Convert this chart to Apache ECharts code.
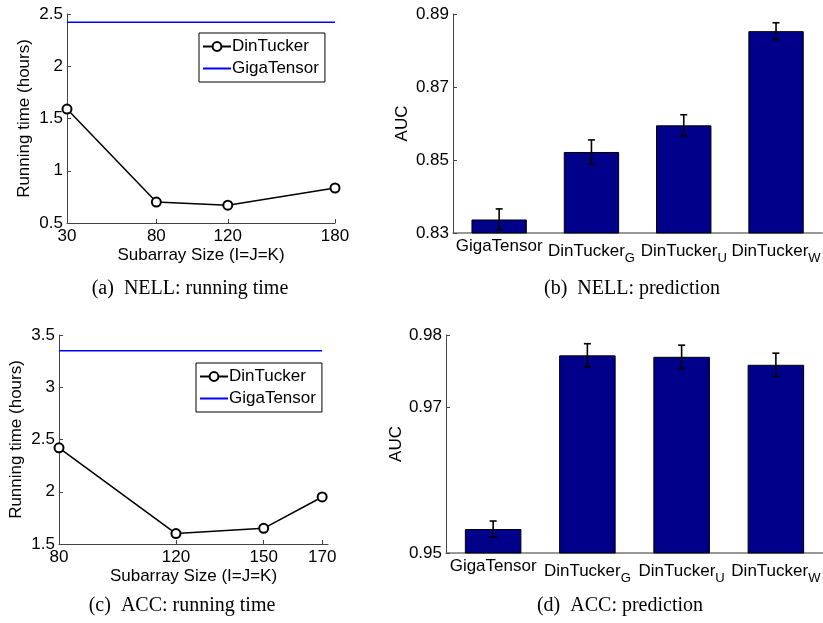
<!DOCTYPE html>
<html lang="en">
<head>
  <meta charset="UTF-8">
  <title>DinTucker vs GigaTensor</title>
  <script src="https://cdn.jsdelivr.net/npm/echarts@6/dist/echarts.min.js"></script>
  <style>
    html, body { margin: 0; padding: 0; background: #fff; overflow: hidden; }
  </style>
</head>
<body>
  <div id="main" style="width: 823px;height:623px;"></div>
<script type="text/javascript">
  // data
  var nellSizes = [30, 80, 120, 180];
  var nellDinTucker = [1.59, 0.70, 0.67, 0.835];
  var nellGigaTensor = [2.42, 2.42, 2.42, 2.42];

  var accSizes = [80, 120, 150, 170];
  var accDinTucker = [2.42, 1.60, 1.65, 1.95];
  var accGigaTensor = [3.35, 3.35, 3.35, 3.35];

  var methods = ['GigaTensor', 'DinTucker_G', 'DinTucker_U', 'DinTucker_W'];
  var nellAuc = [0.8337, 0.8522, 0.8595, 0.8853];
  var nellErr = [0.0029, 0.0033, 0.0029, 0.0023];
  var accAuc = [0.9533, 0.9772, 0.9770, 0.9759];
  var accErr = [0.0011, 0.0016, 0.0016, 0.0016];

  var nellTicksY = [0.5, 1, 1.5, 2, 2.5];
  var accTicksY = [1.5, 2, 2.5, 3, 3.5];
  var nellAucTicks = [0.83, 0.85, 0.87, 0.89];
  var accAucTicks = [0.95, 0.97, 0.98];

  var app = echarts.init(document.getElementById('main'));

  var sans = 'Liberation Sans';
  var serif = 'Liberation Serif';
  var axisColor = '#444';
  var fs = 17;

  function pairs(xs, ys) {
    return xs.map(function (x, i) { return [x, ys[i]]; });
  }

  function errData(vals, errs) {
    return vals.map(function (v, i) { return [i, v - errs[i], v + errs[i]]; });
  }

  function renderErr(params, api) {
    var lo = api.coord([api.value(0), api.value(1)]);
    var hi = api.coord([api.value(0), api.value(2)]);
    var w = 3.5;
    var st = { stroke: '#000', lineWidth: 1.6 };
    return {
      type: 'group',
      children: [
        { type: 'line', shape: { x1: lo[0], y1: lo[1], x2: hi[0], y2: hi[1] }, style: st },
        { type: 'line', shape: { x1: lo[0] - w, y1: lo[1], x2: lo[0] + w, y2: lo[1] }, style: st },
        { type: 'line', shape: { x1: hi[0] - w, y1: hi[1], x2: hi[0] + w, y2: hi[1] }, style: st }
      ]
    };
  }

  function methodLabel(v) {
    var p = v.split('_');
    return p.length > 1 ? p[0] + '{sub|' + p[1] + '}' : v;
  }

  function lineX(min, max, ticks, gridIndex) {
    return {
      type: 'value', gridIndex: gridIndex, min: min, max: max,
      name: 'Subarray Size (I=J=K)', nameLocation: 'middle', nameGap: 24,
      nameTextStyle: { fontFamily: sans, fontSize: fs, color: '#000' },
      axisLine: { lineStyle: { color: axisColor } },
      axisTick: { inside: true, length: 4, customValues: ticks, lineStyle: { color: axisColor } },
      axisLabel: { customValues: ticks, fontFamily: sans, fontSize: fs, color: '#000', margin: 5 },
      splitLine: { show: false }
    };
  }

  function lineY(min, max, ticks, gridIndex) {
    return {
      type: 'value', gridIndex: gridIndex, min: min, max: max, interval: 0.5,
      name: 'Running time (hours)', nameLocation: 'middle', nameGap: 34,
      nameTextStyle: { fontFamily: sans, fontSize: fs, color: '#000' },
      axisLine: { show: true, lineStyle: { color: axisColor } },
      axisTick: { show: true, inside: true, length: 4, customValues: ticks, lineStyle: { color: axisColor } },
      axisLabel: { customValues: ticks, fontFamily: sans, fontSize: fs, color: '#000', margin: 4 },
      splitLine: { show: false }
    };
  }

  function barX(gridIndex) {
    return {
      type: 'category', gridIndex: gridIndex, data: methods,
      axisLine: { lineStyle: { color: '#777', width: 1.5 } },
      axisTick: { show: false },
      axisLabel: {
        interval: 0, fontFamily: sans, fontSize: fs, color: '#000', margin: 5,
        formatter: methodLabel,
        rich: { sub: { fontFamily: sans, fontSize: 13, color: '#000', padding: [14, 0, 0, 0] } }
      }
    };
  }

  function barY(min, max, ticks, gridIndex, gap) {
    return {
      type: 'value', gridIndex: gridIndex, min: min, max: max, interval: 0.01,
      name: 'AUC', nameLocation: 'middle', nameGap: gap,
      nameTextStyle: { fontFamily: sans, fontSize: fs, color: '#000' },
      axisLine: { show: true, lineStyle: { color: axisColor } },
      axisTick: { show: true, inside: true, length: 4, customValues: ticks, lineStyle: { color: axisColor } },
      axisLabel: {
        customValues: ticks, fontFamily: sans, fontSize: fs, color: '#000', margin: 4,
        formatter: function (v) { return v.toFixed(2); }
      },
      splitLine: { show: false }
    };
  }

  function legendAt(left, top) {
    return {
      orient: 'vertical', left: left, top: top,
      data: [
        { name: 'DinTucker' },
        { name: 'GigaTensor', itemStyle: { opacity: 0 } }
      ],
      itemWidth: 28, itemHeight: 11, itemGap: 5,
      padding: [5, 6, 5, 3],
      borderColor: '#000', borderWidth: 1,
      selectedMode: false,
      textStyle: { fontFamily: sans, fontSize: fs, color: '#000', padding: [0, 0, 0, -4] }
    };
  }

  var dinStyle = {
    type: 'line', name: 'DinTucker', symbol: 'emptyCircle', symbolSize: 9,
    lineStyle: { color: '#000', width: 1.5 },
    itemStyle: { color: '#000', borderWidth: 1.5 }
  };
  var gigaStyle = {
    type: 'line', name: 'GigaTensor', symbol: 'none',
    lineStyle: { color: '#0000ff', width: 1.5 },
    itemStyle: { color: '#0000ff' }
  };

  var barStyle = {
    type: 'bar', barWidth: '60%',
    itemStyle: { color: '#00008b', borderColor: '#000', borderWidth: 1 }
  };

  var option = {
    animation: false,
    grid: [
      { left: 67, top: 14, width: 268, height: 209 },
      { left: 453, top: 14, width: 374, height: 219 },
      { left: 59, top: 335, width: 269, height: 209 },
      { left: 446, top: 335, width: 384, height: 218 }
    ],
    xAxis: [
      lineX(30, 180, nellSizes, 0),
      barX(1),
      lineX(80, 172, accSizes, 2),
      barX(3)
    ],
    yAxis: [
      lineY(0.5, 2.5, nellTicksY, 0),
      barY(0.83, 0.89, nellAucTicks, 1, 42),
      lineY(1.5, 3.5, accTicksY, 2),
      barY(0.95, 0.98, accAucTicks, 3, 40)
    ],
    legend: [legendAt(199, 33), legendAt(196, 363)],
    series: [
      Object.assign({}, dinStyle, { xAxisIndex: 0, yAxisIndex: 0, data: pairs(nellSizes, nellDinTucker) }),
      Object.assign({}, gigaStyle, { xAxisIndex: 0, yAxisIndex: 0, data: pairs(nellSizes, nellGigaTensor) }),
      Object.assign({}, dinStyle, { xAxisIndex: 2, yAxisIndex: 2, data: pairs(accSizes, accDinTucker) }),
      Object.assign({}, gigaStyle, { xAxisIndex: 2, yAxisIndex: 2, data: pairs(accSizes, accGigaTensor) }),
      Object.assign({}, barStyle, { name: 'NELL AUC', xAxisIndex: 1, yAxisIndex: 1, data: nellAuc }),
      {
        type: 'custom', name: 'NELL err', xAxisIndex: 1, yAxisIndex: 1, z: 5,
        renderItem: renderErr, data: errData(nellAuc, nellErr)
      },
      Object.assign({}, barStyle, { name: 'ACC AUC', xAxisIndex: 3, yAxisIndex: 3, data: accAuc }),
      {
        type: 'custom', name: 'ACC err', xAxisIndex: 3, yAxisIndex: 3, z: 5,
        renderItem: renderErr, data: errData(accAuc, accErr)
      }
    ],
    graphic: [
      { type: 'text', x: 190, y: 289, style: { text: '(a)  NELL: running time', fontFamily: serif, fontSize: 20, fill: '#000', align: 'center', verticalAlign: 'middle' } },
      { type: 'text', x: 632, y: 289, style: { text: '(b)  NELL: prediction', fontFamily: serif, fontSize: 20, fill: '#000', align: 'center', verticalAlign: 'middle' } },
      { type: 'text', x: 182, y: 606, style: { text: '(c)  ACC: running time', fontFamily: serif, fontSize: 20, fill: '#000', align: 'center', verticalAlign: 'middle' } },
      { type: 'text', x: 620, y: 606, style: { text: '(d)  ACC: prediction', fontFamily: serif, fontSize: 20, fill: '#000', align: 'center', verticalAlign: 'middle' } }
    ]
  };

  app.setOption(option);
</script>
</body>
</html>
